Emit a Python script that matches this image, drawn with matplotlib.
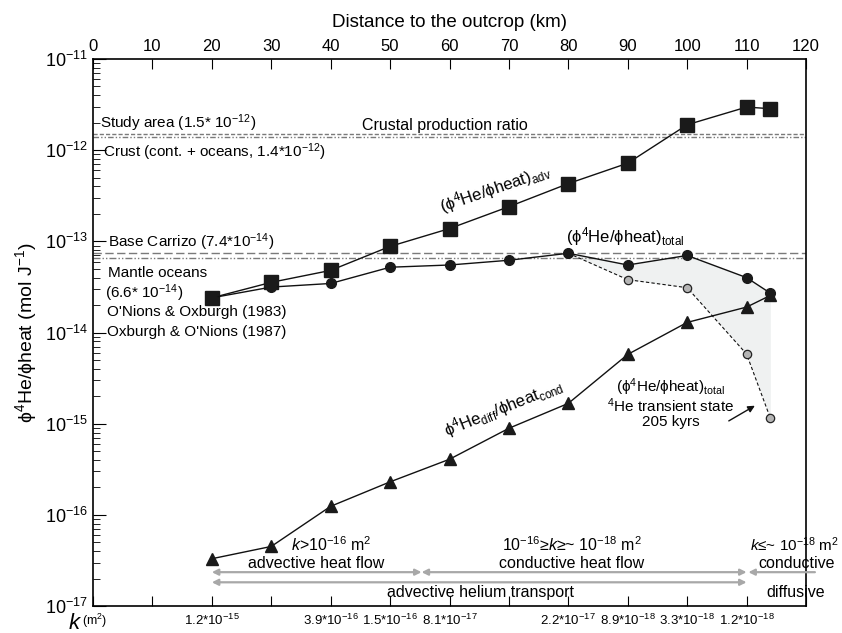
import matplotlib
matplotlib.use("Agg")
import matplotlib.pyplot as plt
import numpy as np

plt.rcParams['font.family'] = ['Liberation Sans Narrow', 'Liberation Sans', 'DejaVu Sans']
plt.rcParams['mathtext.fontset'] = 'custom'
plt.rcParams['mathtext.rm'] = 'Liberation Sans'
plt.rcParams['mathtext.it'] = 'Liberation Sans:italic'

# ---------------- data ----------------
distance = [20, 30, 40, 50, 60, 70, 80, 90, 100, 110, 114]
ratio_adv = [2.4e-14, 3.55e-14, 4.8e-14, 8.8e-14, 1.38e-13, 2.4e-13, 4.3e-13, 7.2e-13, 1.9e-12, 2.97e-12, 2.85e-12]
ratio_total = [2.4e-14, 3.15e-14, 3.45e-14, 5.2e-14, 5.5e-14, 6.2e-14, 7.4e-14, 5.5e-14, 7.0e-14, 4.0e-14, 2.7e-14]
ratio_cond = [3.3e-17, 4.5e-17, 1.24e-16, 2.3e-16, 4.07e-16, 8.9e-16, 1.67e-15, 5.75e-15, 1.29e-14, 1.9e-14, 2.55e-14]

transient_distance = [80, 90, 100, 110, 114]
ratio_transient = [7.4e-14, 3.8e-14, 3.1e-14, 5.8e-15, 1.15e-15]
ratio_total_tail = [7.4e-14, 5.5e-14, 7.0e-14, 4.0e-14, 2.7e-14]

ref_study_area = 1.5e-12
ref_crust = 1.4e-12
ref_base_carrizo = 7.4e-14
ref_mantle = 6.6e-14

k_positions = [20, 40, 50, 60, 80, 90, 100, 110]
k_labels = [r"1.2*10$^{-15}$", r"3.9*10$^{-16}$", r"1.5*10$^{-16}$", r"8.1*10$^{-17}$",
            r"2.2*10$^{-17}$", r"8.9*10$^{-18}$", r"3.3*10$^{-18}$", r"1.2*10$^{-18}$"]

x_ticks = list(range(0, 121, 10))

# ---------------- figure ----------------
fig = plt.figure(figsize=(8.42, 6.33), dpi=100)
ax = fig.add_axes([93/842, 1-606/633, (806-93)/842, (606-59)/633])
ax.set_yscale('log')
ax.set_xlim(0, 120)
ax.set_ylim(1e-17, 1e-11)

grey = '#7a7a7a'
# reference lines
ax.axhline(ref_study_area, color=grey, lw=1.0, ls=(0, (3, 1.5)))
ax.axhline(ref_crust, color=grey, lw=1.0, ls=(0, (4, 1.5, 1, 1.5, 1, 1.5)))
ax.axhline(ref_base_carrizo, color=grey, lw=1.0, ls=(0, (6, 2.5)))
ax.axhline(ref_mantle, color=grey, lw=1.0, ls=(0, (5, 1.5, 1, 1.5, 1, 1.5)))

# shaded area
ax.fill_between(transient_distance, ratio_transient, ratio_total_tail, color='#eff1f1', lw=0, zorder=1)

ax.plot(distance, ratio_adv, color='#111111', lw=1.0, marker='s', ms=9.5, mfc='#1a1a1a', mec='#1a1a1a', zorder=4)
ax.plot(distance, ratio_total, color='#111111', lw=1.0, marker='o', ms=7, mfc='#1a1a1a', mec='#1a1a1a', zorder=4)
ax.plot(transient_distance, ratio_transient, color='#111111', lw=0.8, ls=(0, (3, 2)), marker='o', ms=6,
        mfc='#b4b4b4', mec='#222222', mew=0.9, zorder=3)
ax.plot(distance, ratio_cond, color='#111111', lw=1.0, marker='^', ms=8, mfc='#1a1a1a', mec='#1a1a1a', zorder=4)

# axes styling
ax.set_xticks(x_ticks)
ax.tick_params(axis='x', which='both', direction='in', top=True, bottom=True,
               labeltop=True, labelbottom=False, length=7, labelsize=12)
ax.tick_params(axis='y', which='major', direction='in', length=9, labelsize=13, right=False)
ax.tick_params(axis='y', which='minor', direction='in', length=5, right=False)
ax.set_xlabel('Distance to the outcrop (km)', fontsize=13.5, labelpad=9)
ax.xaxis.set_label_position('top')
ax.set_ylabel(r'ϕ$^{4}$He/ϕheat (mol J$^{-1}$)', fontsize=14, labelpad=4)

# k labels under the axis
xt = ax.get_xaxis_transform()
for kp, kl in zip(k_positions, k_labels):
    ax.text(kp, -0.027, kl, transform=xt, ha='center', va='center', fontsize=9.5)
ax.text(-2.3, -0.012, 'k', transform=xt, ha='right', va='top', fontsize=16, style='italic')
ax.text(-1.9, -0.027, r'(m$^{2}$)', transform=xt, ha='left', va='center', fontsize=9)

# reference labels
fs = 11
ax.text(1.2, 2.0e-12, r'Study area (1.5* 10$^{-12}$)', fontsize=fs, va='center', ha='left')
ax.text(1.7, 9.5e-13, r'Crust (cont. + oceans, 1.4*10$^{-12}$)', fontsize=fs, va='center', ha='left')
ax.text(59.3, 1.85e-12, 'Crustal production ratio', fontsize=11.5, va='center', ha='center')
ax.text(2.5, 9.8e-14, r'Base Carrizo (7.4*10$^{-14}$)', fontsize=fs, va='center', ha='left')
ax.text(2.5, 4.46e-14, 'Mantle oceans', fontsize=fs, va='center', ha='left')
ax.text(2.0, 2.7e-14, r'(6.6* 10$^{-14}$)', fontsize=fs, va='center', ha='left')
ax.text(2.3, 1.66e-14, "O'Nions & Oxburgh (1983)", fontsize=fs, va='center', ha='left')
ax.text(2.3, 1.02e-14, "Oxburgh & O'Nions (1987)", fontsize=fs, va='center', ha='left')

# series labels
ax.text(67.7, 3.8e-13, r'(ϕ$^{4}$He/ϕheat)$_{\rm adv}$', fontsize=12, rotation=19,
        ha='center', va='center', rotation_mode='anchor')
ax.text(89.6, 1.13e-13, r'(ϕ$^{4}$He/ϕheat)$_{\rm total}$', fontsize=12, ha='center', va='center')
ax.text(69.0, 1.5e-15, r'ϕ$^{4}$He$_{\rm diff}$/ϕheat$_{\rm cond}$', fontsize=12, rotation=22,
        ha='center', va='center', rotation_mode='anchor')
ax.text(97.1, 2.5e-15, r'(ϕ$^{4}$He/ϕheat)$_{\rm total}$', fontsize=11, ha='center', va='center')
ax.text(97.2, 1.58e-15, r'$^{4}$He transient state', fontsize=11, ha='center', va='center')
ax.text(97.3, 1.04e-15, '205 kyrs', fontsize=11, ha='center', va='center')
ax.annotate('', xy=(111.8, 1.63e-15), xytext=(106.6, 1.035e-15),
            arrowprops=dict(arrowstyle='-|>', color='#111111', lw=1.0, mutation_scale=10))

# regime annotations
agrey = '#a8a8a8'
aprops = dict(arrowstyle='<|-|>', color=agrey, lw=1.6, mutation_scale=9, shrinkA=0, shrinkB=0)
ax.annotate('', xy=(20, 2.35e-17), xytext=(55.3, 2.35e-17), arrowprops=aprops)
ax.annotate('', xy=(55.3, 2.35e-17), xytext=(110, 2.35e-17), arrowprops=aprops)
ax.annotate('', xy=(20, 1.82e-17), xytext=(110, 1.82e-17), arrowprops=aprops)
ax.annotate('', xy=(110.3, 2.35e-17), xytext=(121.5, 2.35e-17),
            arrowprops=dict(arrowstyle='-|>', color=agrey, lw=1.6, mutation_scale=9, shrinkA=0, shrinkB=0),
            annotation_clip=False)

rfs = 11.5
ax.text(40.0, 4.7e-17, r'$\it{k}$>10$^{-16}$ m$^{2}$', fontsize=rfs, ha='center', va='center')
ax.text(37.5, 2.95e-17, 'advective heat flow', fontsize=rfs, ha='center', va='center')
ax.text(80.6, 4.7e-17, r'10$^{-16}$≥$\it{k}$≥~ 10$^{-18}$ m$^{2}$', fontsize=rfs, ha='center', va='center')
ax.text(80.6, 2.95e-17, 'conductive heat flow', fontsize=rfs, ha='center', va='center')
ax.text(65.3, 1.42e-17, 'advective helium transport', fontsize=rfs, ha='center', va='center')
ax.text(110.6, 4.7e-17, r'$\it{k}$≤~ 10$^{-18}$ m$^{2}$', fontsize=11, ha='left', va='center', clip_on=False)
ax.text(118.5, 2.95e-17, 'conductive', fontsize=rfs, ha='center', va='center', clip_on=False)
ax.text(118.3, 1.42e-17, 'diffusive', fontsize=rfs, ha='center', va='center', clip_on=False)

for sp in ax.spines.values():
    sp.set_linewidth(1.2)

fig.savefig('out.png', dpi=100)
